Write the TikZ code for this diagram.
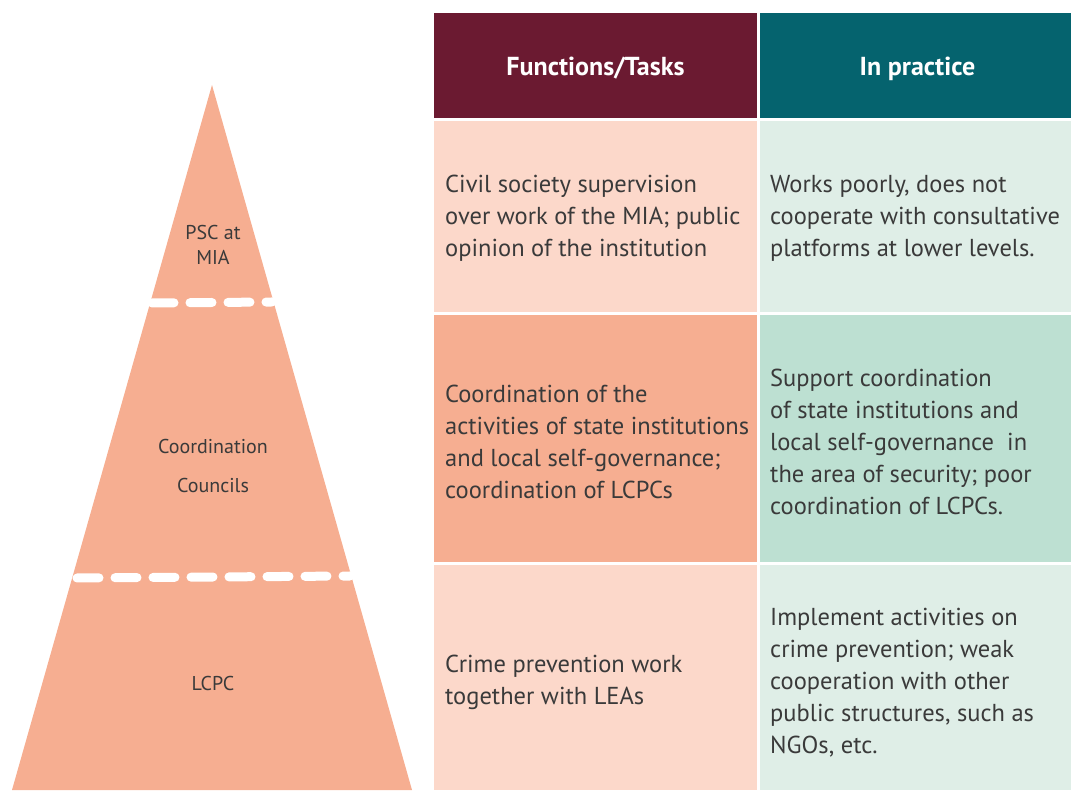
\documentclass[tikz,border=0pt]{standalone}
\usepackage{fontspec}
\setmainfont{PT Sans}
\usetikzlibrary{positioning}

\definecolor{maroon}{HTML}{6B1A31}
\definecolor{teal}{HTML}{05636E}
\definecolor{peachlight}{HTML}{FCD8CA}
\definecolor{peach}{HTML}{F6AE91}
\definecolor{mintlight}{HTML}{DFEEE7}
\definecolor{mint}{HTML}{BDE0D2}
\definecolor{txt}{HTML}{3A3A3A}

\tikzset{
  cell/.style={fill=#1,inner sep=0,outer sep=0,anchor=south west},
  head/.style={text=white,font=\fontsize{26}{30}\selectfont\bfseries},
  body/.style={anchor=west,align=left,text=txt,inner sep=0,font=\fontsize{24.5}{32}\selectfont},
  lvl/.style={align=center,text=txt,font=\fontsize{20}{25}\selectfont},
  cut/.style={white,line width=9,line cap=round,dash pattern=on 22 off 16}
}

\begin{document}
\begin{tikzpicture}[x=1pt,y=1pt]
    \useasboundingbox (0,0) rectangle (1071,790);
    % pyramid
    \fill[peach] (212,705) -- (12,0) -- (412,0) -- cycle;
    \draw[cut] (152,487) -- (272,488);
    \draw[cut] (77,212) -- (350,214);
    \node[lvl] (psc) at (213,545) {PSC at\\MIA};
    \node[lvl,font=\fontsize{20}{39}\selectfont] (cc) at (213,324) {Coordination\\Councils};
    \node[lvl] (lcpc) at (213,106) {LCPC};

    % table
    \node[cell=maroon,minimum width=323,minimum height=105] (hf) at (434,672) {};
    \node[cell=teal,minimum width=315,minimum height=105] (hp) at (760,672) {};
    \node[head] at ([yshift=-3]hf.center) {Functions/Tasks};
    \node[head] at ([yshift=-3]hp.center) {In practice};

    \node[cell=peachlight,minimum width=323,minimum height=191] (f1) at (434,478) {};
    \node[cell=mintlight,minimum width=315,minimum height=191] (p1) at (760,478) {};
    \node[cell=peach,minimum width=323,minimum height=247] (f2) at (434,228) {};
    \node[cell=mint,minimum width=315,minimum height=247] (p2) at (760,228) {};
    \node[cell=peachlight,minimum width=323,minimum height=225] (f3) at (434,0) {};
    \node[cell=mintlight,minimum width=315,minimum height=225] (p3) at (760,0) {};

    \node[body] (t1) at ([xshift=11,yshift=-2]f1.west) {Civil society supervision\\over work of the MIA; public\\opinion of the institution};
    \node[body] (u1) at ([xshift=10,yshift=-2]p1.west) {Works poorly, does not\\cooperate with consultative\\platforms at lower levels.};
    \node[body] (t2) at ([xshift=11,yshift=-3]f2.west) {Coordination of the\\activities of state institutions\\and local self-governance;\\coordination of LCPCs};
    \node[body] (u2) at ([xshift=10,yshift=-3]p2.west) {Support coordination\\of state institutions and\\local self-governance\ \ in\\the area of security; poor\\coordination of LCPCs.};
    \node[body] (t3) at ([xshift=11,yshift=-5]f3.west) {Crime prevention work\\together with LEAs};
    \node[body] (u3) at ([xshift=10,yshift=-5]p3.west) {Implement activities on\\crime prevention; weak\\cooperation with other\\public structures, such as\\NGOs, etc.};
  \end{tikzpicture}
\end{document}
